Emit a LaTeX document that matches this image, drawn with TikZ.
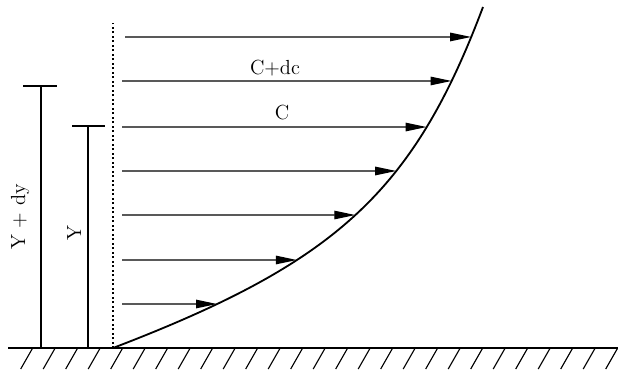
\documentclass[tikz,border=0pt]{standalone}
\usepackage{tikz}
\usetikzlibrary{arrows.meta, intersections}

\begin{document}
\begin{tikzpicture}[
        x=0.025cm, y=-0.025cm,
        >={Triangle[length=15pt,width=6pt]},
        flow/.style={->, line width=1pt},
        bar/.style={line width=1.2pt},
        hatch/.style={line width=0.8pt},
        lbl/.style={font=\fontsize{14.5}{17}\selectfont, inner sep=0pt}
    ]
    \useasboundingbox (0,0) rectangle (618,369);
    % ground with hatching
    \coordinate (g0) at (8,348);
    \coordinate (g1) at (618,348);
    \draw[line width=1.3pt] (g0) -- (g1);
    \foreach \i in {0,...,26}
        \draw[hatch] (32.7+22.5*\i,348) -- ++(-12,21);
    % dotted reference line
    \coordinate (o) at (113,348);
    \coordinate (w) at (113,23);
    \draw[line width=1.2pt, dash pattern=on 1.3pt off 1.9pt] (o) -- (w);
    % profile
    \coordinate (top) at (483,7);
    \draw[line width=1.3pt, name path=profile]
        (o) .. controls (335,263) and (413,193) .. (top);
    % velocity arrows
    \foreach \n/\y/\x in {1/304/122, 2/260/122, 3/215/122, 4/171/122,
                          5/127/122, 6/81/122, 7/37/125} {
        \coordinate (s\n) at (\x,\y);
        \path[name path=ray\n] (s\n) -- (600,\y);
        \path[name intersections={of=profile and ray\n, by={t\n}}];
        \draw[flow] (s\n) -- (t\n);
    }
    \node[lbl] (cdc) at (275,68) {C+dc};
    \node[lbl] (c) at (282,113) {C};
    % heights
    \coordinate (h1) at (41,348);
    \coordinate (h1t) at (41,86);
    \coordinate (h1l) at (23,86);
    \coordinate (h1r) at (57,86);
    \draw[bar] (h1) -- (h1t);
    \draw[bar] (h1l) -- (h1r);
    \coordinate (h2) at (88,348);
    \coordinate (h2t) at (88,126);
    \coordinate (h2l) at (72,126);
    \coordinate (h2r) at (105,126);
    \draw[bar] (h2) -- (h2t);
    \draw[bar] (h2l) -- (h2r);
    \node[lbl, rotate=90, anchor=base] (ydy) at (25,217) {Y + dy};
    \node[lbl, rotate=90, anchor=base] (y) at (81,233) {Y};
\end{tikzpicture}
\end{document}
